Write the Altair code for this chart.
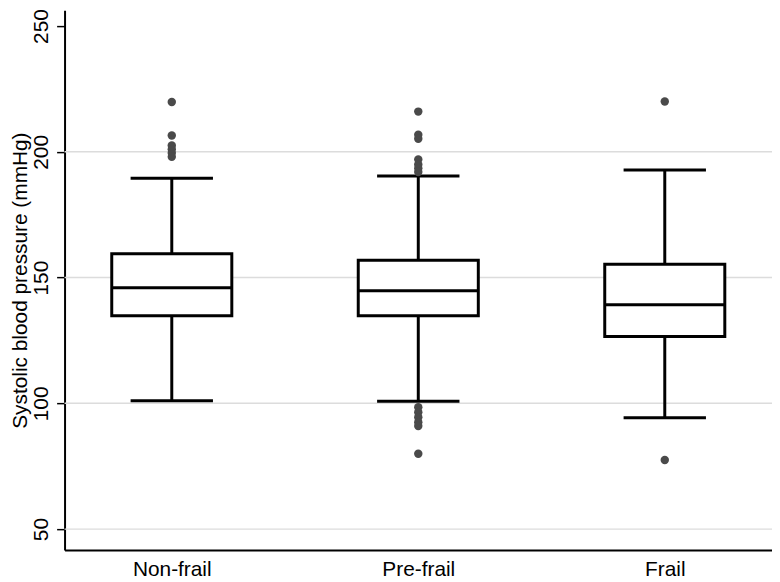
import altair as alt
import pandas as pd

# ---- data ----
categories = ["Non-frail", "Pre-frail", "Frail"]
q1 = [134.8, 134.8, 126.6]
median = [146.0, 144.8, 139.2]
q3 = [159.5, 156.9, 155.3]
whisker_low = [101.0, 100.8, 94.3]
whisker_high = [189.5, 190.4, 192.8]

outlier_group = (["Non-frail"] * 6
                 + ["Pre-frail"] * 13
                 + ["Frail"] * 2)
outlier_value = ([219.8, 206.5, 202.5, 201.0, 199.5, 198.0]
                 + [216.0, 206.8, 205.2, 197.0, 195.0, 193.5, 192.0,
                    98.5, 96.5, 94.5, 92.5, 91.0, 80.0]
                 + [220.0, 77.5])

y_ticks = [50, 100, 150, 200, 250]
grid_values = [50, 100, 150, 200]

boxes = pd.DataFrame({"group": categories, "q1": q1, "median": median,
                      "q3": q3, "lo": whisker_low, "hi": whisker_high})
outs = pd.DataFrame({"group": outlier_group, "value": outlier_value})
grid = pd.DataFrame({"v": grid_values})

FONT = "Liberation Sans"
ydom = [41.7, 256.3]

xenc = alt.X("group:N", sort=categories,
             scale=alt.Scale(type="point", padding=0.435),
             axis=alt.Axis(title=None, ticks=False, labelAngle=0,
                           labelFontSize=21, labelFont=FONT, labelColor="black",
                           labelPadding=9, labelBaseline="top",
                           domainColor="black", domainWidth=2, grid=False))

yscale = alt.Scale(domain=ydom, nice=False, zero=False)
yaxis = alt.Axis(title="Systolic blood pressure (mmHg)", values=y_ticks,
                 grid=False, labelAngle=270, labelAlign="center",
                 labelBaseline="alphabetic", labelPadding=9,
                 labelFontSize=21, labelFont=FONT, labelColor="black",
                 titleFontSize=21, titleFont=FONT, titleFontWeight="normal",
                 titleColor="black", titlePadding=0,
                 tickSize=8, tickColor="black", tickWidth=1.5,
                 domainColor="black", domainWidth=2)

grid_layer = alt.Chart(grid).mark_rule(color="#dcdcdc", strokeWidth=1.5).encode(
    y=alt.Y("v:Q", scale=yscale, axis=yaxis)
)

base = alt.Chart(boxes)

whiskers = base.mark_rule(color="black", strokeWidth=3).encode(
    x=xenc,
    y=alt.Y("lo:Q", scale=yscale, axis=yaxis),
    y2="hi:Q",
)

cap_low = base.mark_tick(color="black", size=83, thickness=3, opacity=1).encode(
    x=xenc, y=alt.Y("lo:Q", scale=yscale, axis=yaxis))
cap_high = base.mark_tick(color="black", size=83, thickness=3, opacity=1).encode(
    x=xenc, y=alt.Y("hi:Q", scale=yscale, axis=yaxis))

box = base.mark_bar(size=121, fill="white", stroke="black", strokeWidth=3).encode(
    x=xenc,
    y=alt.Y("q1:Q", scale=yscale, axis=yaxis),
    y2="q3:Q",
)

med = base.mark_tick(color="black", size=121, thickness=3, opacity=1).encode(
    x=xenc, y=alt.Y("median:Q", scale=yscale, axis=yaxis))

points = alt.Chart(outs).mark_circle(size=72, color="#4a4a4a", opacity=1).encode(
    x=xenc, y=alt.Y("value:Q", scale=yscale, axis=yaxis))

chart = alt.layer(grid_layer, whiskers, cap_low, cap_high, box, med, points).properties(
    width=713, height=544,
    padding={"left": 57, "top": 0, "right": 0, "bottom": 30},
    autosize=alt.AutoSizeParams(type="none"),
    background="white",
).configure_view(stroke=None)

chart.save("out.html", embed_options={"renderer": "svg", "actions": False})
